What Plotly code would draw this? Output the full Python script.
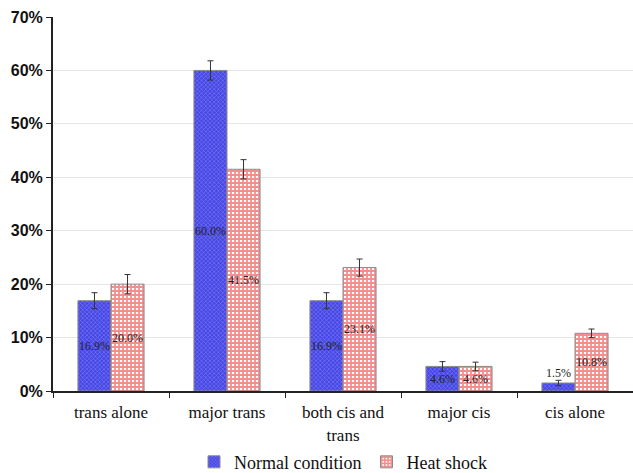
import plotly.graph_objects as go

categories = ["trans alone", "major trans", "both cis and<br>trans", "major cis", "cis alone"]
normal = [0.169, 0.600, 0.169, 0.046, 0.015]
heat = [0.200, 0.415, 0.231, 0.046, 0.108]
normal_err = [0.015, 0.018, 0.015, 0.009, 0.005]
heat_err = [0.018, 0.018, 0.016, 0.008, 0.008]
normal_labels = ["16.9%", "60.0%", "16.9%", "4.6%", "1.5%"]
heat_labels = ["20.0%", "41.5%", "23.1%", "4.6%", "10.8%"]

fig = go.Figure()
fig.add_trace(go.Bar(
    name="Normal condition", x=categories, y=normal,
    text=normal_labels, textangle=0,
    textposition=["inside", "inside", "inside", "inside", "outside"],
    insidetextanchor="middle", constraintext="none", cliponaxis=False,
    textfont=dict(family="Liberation Serif", size=12, color="#222"),
    outsidetextfont=dict(family="Liberation Serif", size=12, color="#222"),
    marker=dict(color="#4646e6", line=dict(color="#8a8a8a", width=1),
                pattern=dict(shape="x", fgcolor="#c8c8ff", size=3, solidity=0.3)),
    error_y=dict(type="data", array=normal_err, color="#333", thickness=1, width=3),
))
fig.add_trace(go.Bar(
    name="Heat shock", x=categories, y=heat,
    text=heat_labels, textangle=0, textposition="inside",
    insidetextanchor="middle", constraintext="none", cliponaxis=False,
    textfont=dict(family="Liberation Serif", size=12, color="#222"),
    marker=dict(color="#ffffff", line=dict(color="#8a8a8a", width=1),
                pattern=dict(shape="+", fgcolor="#ee1c1c", bgcolor="#ffffff", size=4, solidity=0.7)),
    error_y=dict(type="data", array=heat_err, color="#333", thickness=1, width=3),
))

fig.update_layout(
    width=633, height=473,
    margin=dict(l=53, r=0, t=17, b=82),
    paper_bgcolor="white", plot_bgcolor="white",
    barmode="group", bargap=0.43, bargroupgap=0,
    showlegend=True,
    legend=dict(orientation="h", x=0.5, xanchor="center",
                yref="container", y=0.023, yanchor="middle",
                font=dict(family="Liberation Serif", size=18, color="#111"),
                itemwidth=30, traceorder="normal"),
)
fig.update_xaxes(
    automargin=False,
    showline=True, linecolor="#222", linewidth=2,
    ticks="outside", tickson="boundaries", ticklen=5, tickcolor="#222",
    ticklabelstandoff=5,
    tickfont=dict(family="Liberation Serif", size=17, color="#111"),
    showgrid=False,
)
fig.update_yaxes(
    automargin=False,
    range=[0, 0.7], dtick=0.1, tickformat=".0%",
    showline=True, linecolor="#222", linewidth=2,
    ticks="outside", ticklen=5, tickcolor="#222",
    tickfont=dict(family="Liberation Sans", size=16, color="#111", weight="bold"),
    showgrid=True, gridcolor="#e6e6e6", gridwidth=1,
    zeroline=False,
)

fig.write_html("out.html", config={"displayModeBar": False},
               post_script="document.body.style.margin='0';")
